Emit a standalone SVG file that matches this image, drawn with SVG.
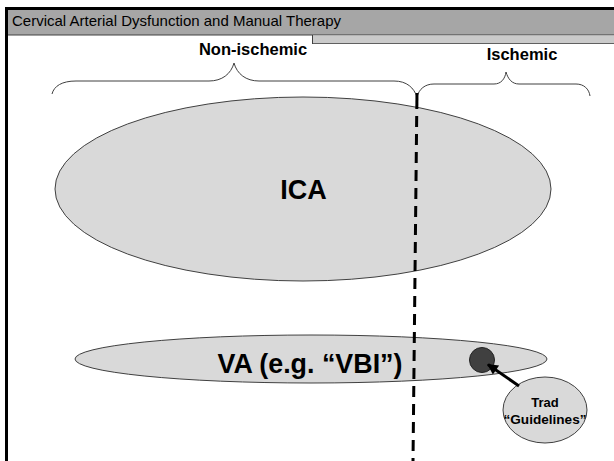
<svg xmlns="http://www.w3.org/2000/svg" width="614" height="461" viewBox="0 0 614 461">
<style>
.bold{font-family:"Liberation Sans",Arial,sans-serif;font-weight:bold;fill:#000}
.brace{fill:none;stroke:#404040;stroke-width:1}
.shape{fill:#d9d9d9;stroke:#404040;stroke-width:1}
</style>
<defs>
<marker id="ah" viewBox="0 0 10 10" refX="9" refY="5" markerWidth="4.2" markerHeight="3.6" orient="auto" markerUnits="strokeWidth">
<path d="M0,0 L10,5 L0,10 Z" fill="#000"/>
</marker>
</defs>
<rect width="614" height="461" fill="#fff"/>
<g id="title-bar">
<rect x="7" y="9" width="607" height="26" fill="#a6a6a6"/>
<line x1="7" y1="35" x2="614" y2="35" stroke="#404040" stroke-width="1"/>
<rect x="312" y="35.5" width="302" height="8" fill="#cacaca"/>
<line x1="312" y1="43.5" x2="614" y2="43.5" stroke="#606060" stroke-width="1"/>
<line x1="312.5" y1="35" x2="312.5" y2="44" stroke="#404040" stroke-width="1"/>
<line x1="5" y1="8.5" x2="614" y2="8.5" stroke="#000" stroke-width="3"/>
<line x1="6.5" y1="7" x2="6.5" y2="461" stroke="#000" stroke-width="3"/>
<text x="12" y="26" font-family="'Liberation Sans', Arial, sans-serif" font-size="15" fill="#000">Cervical Arterial Dysfunction and Manual Therapy</text>
</g>
<g id="non-ischemic">
<path class="brace" d="M52,94 C54,86 62,81 76,81 L209,81 C222,81 231,74 234,63 C237,74 246,81 259,81 L394,81 C407,81 414,88 417,97"/>
<text class="bold" x="253" y="55" font-size="16.5" text-anchor="middle">Non-ischemic</text>
</g>
<g id="ischemic">
<path class="brace" d="M417,97 C419,89 425,84 434,84 L494,84 C501,84 505,79 506,72 C508,79 512,84 519,84 L576,84 C584,84 589,89 590,96"/>
<text class="bold" x="522" y="60" font-size="16.5" text-anchor="middle">Ischemic</text>
</g>
<g id="ica">
<ellipse class="shape" cx="303" cy="189" rx="248" ry="92"/>
<text class="bold" x="303.5" y="199" font-size="27" text-anchor="middle">ICA</text>
</g>
<g id="va">
<ellipse class="shape" cx="311" cy="359" rx="236" ry="24"/>
<text class="bold" x="310" y="373" font-size="27" text-anchor="middle" textLength="185" lengthAdjust="spacingAndGlyphs">VA (e.g. “VBI”)</text>
</g>
<g id="dot">
<circle cx="482" cy="360" r="12.5" fill="#404040" stroke="#222" stroke-width="1"/>
</g>
<g id="guidelines">
<ellipse class="shape" cx="545" cy="410" rx="42" ry="33"/>
<text class="bold" x="545" y="407" font-size="13" text-anchor="middle">Trad</text>
<text class="bold" x="545" y="424" font-size="13" text-anchor="middle" textLength="83" lengthAdjust="spacingAndGlyphs">“Guidelines”</text>
</g>
<g id="connectors">
<line x1="417" y1="93" x2="416.8" y2="109" stroke="#000" stroke-width="3"/>
<line x1="416.7" y1="116" x2="413" y2="461" stroke="#000" stroke-width="3" stroke-dasharray="11 7"/>
<line x1="519" y1="386" x2="488" y2="364.5" stroke="#000" stroke-width="3" marker-end="url(#ah)"/>
</g>
</svg>
